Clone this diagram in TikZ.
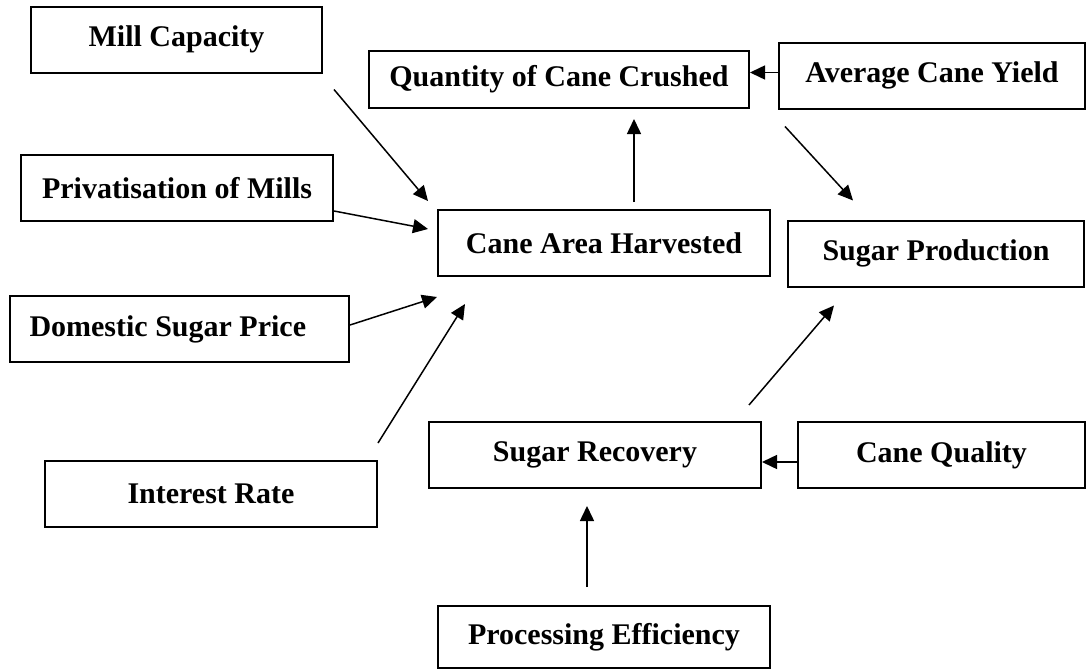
\documentclass[tikz,border=0pt]{standalone}
\usepackage{fontspec}
\setmainfont{Liberation Serif}
\usetikzlibrary{arrows.meta}
\begin{document}
\begin{tikzpicture}[x=0.5pt, y=-0.5pt,
        box/.style={draw, line width=1pt, inner sep=0pt, minimum height=33pt,
            font=\fontsize{15}{17}\selectfont\bfseries},
        link/.style={->, line width=0.75pt},
        >={Triangle[length=7.5pt,width=7pt]}]
        \useasboundingbox (0,0) rectangle (1087,669);
        % left column
        \node[box, minimum width=145.5pt] (mill) at (176.5,39.5) {Mill Capacity};
        \node[box, minimum width=156pt] (priv) at (177,188) {Privatisation of Mills};
        \node[box, minimum width=169.5pt, text width=150pt, align=flush left] (price) at (179.5,329) {Domestic Sugar Price};
        \node[box, minimum width=166pt] (rate) at (211,494) {Interest Rate};
        % middle column
        \node[box, minimum width=190pt, minimum height=28.5pt] (crushed) at (559,79.5) {Quantity of Cane Crushed};
        \node[box, minimum width=166pt] (area) at (604,243) {Cane Area Harvested};
        \node[box, minimum width=166pt] (recovery) at (595,455) {Sugar Recovery};
        \node[box, minimum width=166pt, minimum height=31pt] (effic) at (604,637) {Processing Efficiency};
        % right column
        \node[box, minimum width=153pt] (yield) at (932,75.5) {Average Cane Yield};
        \node[box, minimum width=148pt] (prod) at (936,253.5) {Sugar Production};
        \node[box, minimum width=143.5pt] (quality) at (941.5,455) {Cane Quality};
        % loose arrow ends
        \coordinate (millout) at ([shift={(11,16)}]mill.south east);
        \coordinate (privout) at ([shift={(0,-11)}]priv.south east);
        \coordinate (priceout) at ([shift={(0,-4)}]price.east);
        \coordinate (rateout) at ([shift={(0,-17)}]rate.north east);
        \coordinate (areain1) at ([shift={(-9,-8)}]area.north west);
        \coordinate (areain2) at ([shift={(-9,-14)}]area.west);
        \coordinate (areain3) at ([shift={(0,20)}]area.south west);
        \coordinate (areain4) at ([shift={(28,27)}]area.south west);
        \coordinate (areaout) at ([shift={(30,-7)}]area.north);
        \coordinate (crushedin) at ([shift={(75,10)}]crushed.south);
        \coordinate (yieldout) at ([shift={(7,17)}]yield.south west);
        \coordinate (prodin1) at ([shift={(66,-19)}]prod.north west);
        \coordinate (recout) at ([shift={(-13,-16)}]recovery.north east);
        \coordinate (prodin2) at ([shift={(47,18)}]prod.south west);
        \coordinate (efficout) at ([shift={(-17,-18)}]effic.north);
        \coordinate (recin) at ([shift={(-8,17)}]recovery.south);
        % arrows into cane area
        \draw[link] (millout) -- (areain1);
        \draw[link] (privout) -- (areain2);
        \draw[link] (priceout) -- (areain3);
        \draw[link] (rateout) -- (areain4);
        % arrows to production
        \draw[link] (areaout) -- (crushedin);
        \draw[link] ([yshift=1.5pt]yield.west) -- ([yshift=1.5pt]yield.west -| crushed.east);
        \draw[link] (yieldout) -- (prodin1);
        \draw[link] (recout) -- (prodin2);
        \draw[link] ([yshift=-3.5pt]quality.west) -- ([yshift=-3.5pt]quality.west -| recovery.east);
        \draw[link] (efficout) -- (recin);
\end{tikzpicture}
\end{document}
